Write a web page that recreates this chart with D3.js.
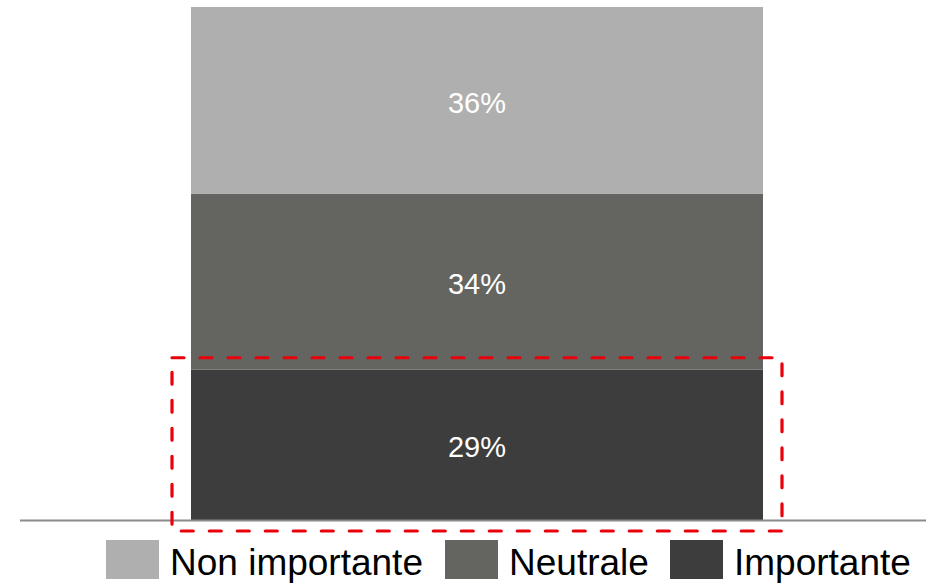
<!DOCTYPE html>
<html>
<head>
<meta charset="utf-8">
<script src="https://cdn.jsdelivr.net/npm/d3@7/dist/d3.min.js"></script>
<style>
html,body{margin:0;padding:0;background:#fff;}
svg{display:block;font-family:"Liberation Sans",Arial,sans-serif;}
</style>
</head>
<body>
<svg id="chart" width="926" height="583"></svg>
<script>
// Data
const categories = ["Importante", "Neutrale", "Non importante"]; // bottom to top
const values = [29, 34, 36];
const colors = ["#3d3d3d", "#646561", "#afafaf"];
const legendOrder = ["Non importante", "Neutrale", "Importante"];
const highlighted = "Importante";

const svg = d3.select("#chart");
const W = 926, H = 583;

const total = d3.sum(values);
const y = d3.scaleLinear().domain([0, total]).range([520, 7]);
const x = d3.scaleBand().domain(["bar"]).range([191, 763]).padding(0);

let cum = 0;
const stacks = values.map((v, i) => {
  const s = {cat: categories[i], v, y0: cum, y1: cum + v, color: colors[i]};
  cum += v;
  return s;
});

const g = svg.append("g");
g.selectAll("rect.seg").data(stacks).enter().append("rect")
  .attr("class", "seg")
  .attr("x", x("bar"))
  .attr("width", x.bandwidth())
  .attr("y", d => y(d.y1))
  .attr("height", d => y(d.y0) - y(d.y1))
  .attr("fill", d => d.color);

g.selectAll("text.lbl").data(stacks).enter().append("text")
  .attr("class", "lbl")
  .attr("x", x("bar") + x.bandwidth() / 2)
  .attr("y", d => (y(d.y0) + y(d.y1)) / 2)
  .attr("dy", "0.43em")
  .attr("text-anchor", "middle")
  .attr("fill", "#ffffff")
  .attr("font-size", 29)
  .text(d => d.v + "%");

// baseline
svg.append("line")
  .attr("x1", 20).attr("x2", W)
  .attr("y1", y(0) + 0.5).attr("y2", y(0) + 0.5)
  .attr("stroke", "#8a8a8a").attr("stroke-width", 2);

// highlight dashed box
const hs = stacks.find(s => s.cat === highlighted);
svg.append("rect")
  .attr("x", x("bar") - 19)
  .attr("y", y(hs.y1) - 12)
  .attr("width", x.bandwidth() + 38)
  .attr("height", y(hs.y0) - y(hs.y1) + 23)
  .attr("fill", "none")
  .attr("stroke", "#e8000b")
  .attr("stroke-width", 3.2)
  .attr("stroke-dasharray", "12,16")
  .attr("stroke-linecap", "round")
  .attr("stroke-linejoin", "round");

// legend
const legendX = [106, 445, 670];
const lg = svg.append("g");
legendOrder.forEach((name, i) => {
  const c = colors[categories.indexOf(name)];
  lg.append("rect")
    .attr("x", legendX[i]).attr("y", 540)
    .attr("width", 53).attr("height", 39)
    .attr("fill", c);
  lg.append("text")
    .attr("x", legendX[i] + 64).attr("y", 575)
    .attr("font-size", 37)
    .attr("fill", "#000")
    .text(name);
});
</script>
</body>
</html>
